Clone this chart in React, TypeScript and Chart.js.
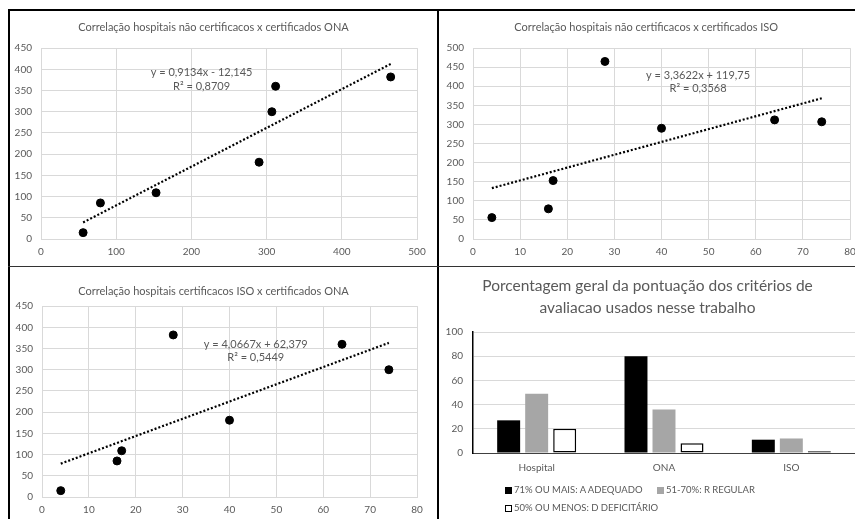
import React, { useEffect, useRef } from "react";
import { Chart, registerables } from "chart.js";

Chart.register(...registerables);

// ---- data ----
const isoCert = [4, 16, 17, 28, 40, 64, 74];
const naoCert = [56, 79, 153, 465, 290, 312, 307];
const onaCert = [15, 85, 109, 382, 181, 360, 300];

const eqNaoOna = ["y = 0,9134x - 12,145", "R² = 0,8709"];
const coefNaoOna = [0.9134, -12.145];
const eqIsoNao = ["y = 3,3622x + 119,75", "R² = 0,3568"];
const coefIsoNao = [3.3622, 119.75];
const eqIsoOna = ["y = 4,0667x + 62,379", "R² = 0,5449"];
const coefIsoOna = [4.0667, 62.379];

const barCategories = ["Hospital", "ONA", "ISO"];
const adequado = [27, 80, 11];
const regular = [49, 36, 12];
const deficitario = [20, 8, 1.5];
const barSeriesLabels = ["71% OU MAIS: A ADEQUADO", "51-70%: R REGULAR", "50% OU MENOS: D DEFICITÁRIO"];
const barColors = ["#000000", "#a6a6a6", "#ffffff"];

const FONT = "Lato, 'Open Sans', sans-serif";
const TXT = "#595959";
const GRID = "#d9d9d9";

const eqPlugin = {
  id: "eqText",
  afterDatasetsDraw(chart: any, _args: any, opts: any) {
    if (!opts || !opts.lines) return;
    const { ctx, chartArea: a } = chart;
    ctx.save();
    ctx.font = `${opts.size}px ${FONT}`;
    ctx.fillStyle = TXT;
    ctx.textAlign = "center";
    ctx.textBaseline = "middle";
    opts.lines.forEach((l: string, i: number) => {
      ctx.fillText(l, a.left + a.width * opts.fx, a.top + a.height * opts.fy + i * opts.lh);
    });
    ctx.restore();
  },
};

type ScatterProps = {
  left: number; top: number; width: number; height: number;
  xs: number[]; ys: number[]; title: string; eq: string[]; coef: number[];
  xMax: number; xStep: number; yMax: number; yStep: number;
  yAxisW: number; xAxisH: number; padRight: number; tTop: number; tBottom: number;
  fx: number; fy: number; lh: number;
};

function ScatterPanel(p: ScatterProps) {
  const ref = useRef<HTMLCanvasElement>(null);
  useEffect(() => {
    const pts = p.xs.map((x, i) => ({ x, y: p.ys[i] }));
    const minX = Math.min(...p.xs);
    const maxX = Math.max(...p.xs);
    const trend = [minX, maxX].map((x) => ({ x, y: p.coef[0] * x + p.coef[1] }));
    const chart = new Chart(ref.current as HTMLCanvasElement, {
      type: "scatter",
      data: {
        datasets: [
          {
            type: "line",
            data: trend,
            borderColor: "#000",
            borderWidth: 2.2,
            borderDash: [2, 2],
            pointRadius: 0,
            fill: false,
            order: 2,
          } as any,
          {
            type: "scatter",
            data: pts,
            backgroundColor: "#000",
            borderColor: "#000",
            borderWidth: 1,
            pointRadius: 4,
            pointHoverRadius: 4,
            order: 1,
          } as any,
        ],
      },
      options: {
        animation: false,
        responsive: false,
        maintainAspectRatio: false,
        events: [],
        layout: { padding: { left: 0, right: p.padRight, top: 0, bottom: 0 } },
        plugins: {
          legend: { display: false },
          tooltip: { enabled: false },
          title: {
            display: true,
            text: p.title,
            color: TXT,
            font: { family: FONT, size: 11, weight: "normal", lineHeight: 1.1 },
            padding: { top: p.tTop, bottom: p.tBottom },
          },
          eqText: { lines: p.eq, fx: p.fx, fy: p.fy, lh: p.lh, size: 11 },
        } as any,
        scales: {
          x: {
            type: "linear",
            min: 0,
            max: p.xMax,
            ticks: { stepSize: p.xStep, color: TXT, font: { family: FONT, size: 10 }, padding: 7, maxRotation: 0 },
            grid: { color: GRID, drawTicks: false },
            border: { color: GRID },
            afterFit: (s: any) => {
              s.height = p.xAxisH;
              s.paddingLeft = 0;
              s.paddingRight = 0;
            },
          },
          y: {
            type: "linear",
            min: 0,
            max: p.yMax,
            ticks: { stepSize: p.yStep, color: TXT, font: { family: FONT, size: 10 }, padding: 9 },
            grid: { color: GRID, drawTicks: false },
            border: { color: GRID },
            afterFit: (s: any) => {
              s.width = p.yAxisW;
              s.paddingTop = 0;
              s.paddingBottom = 0;
            },
          },
        },
      },
      plugins: [eqPlugin],
    });
    return () => chart.destroy();
  }, []);
  return (
    <canvas
      ref={ref}
      width={p.width}
      height={p.height}
      style={{ position: "absolute", left: p.left, top: p.top, width: p.width, height: p.height }}
    />
  );
}

function BarPanel() {
  const ref = useRef<HTMLCanvasElement>(null);
  useEffect(() => {
    const series = [adequado, regular, deficitario];
    const chart = new Chart(ref.current as HTMLCanvasElement, {
      type: "bar",
      data: {
        labels: barCategories,
        datasets: series.map((d, i) => ({
          label: barSeriesLabels[i],
          data: d,
          backgroundColor: barColors[i],
          borderColor: "#000",
          borderWidth: i === 2 ? 1.5 : 0,
          borderSkipped: false,
        })) as any,
      },
      options: {
        animation: false,
        responsive: false,
        maintainAspectRatio: false,
        events: [],
        datasets: { bar: { categoryPercentage: 0.66, barPercentage: 0.82 } },
        layout: { padding: 0 },
        plugins: {
          legend: { display: false },
          tooltip: { enabled: false },
          title: {
            display: true,
            text: ["Porcentagem geral da pontuação dos critérios de", "avaliacao usados nesse trabalho"],
            color: TXT,
            font: { family: FONT, size: 15.5, weight: "normal", lineHeight: 1.42 },
            padding: { top: 7, bottom: 13 },
          },
        },
        scales: {
          x: {
            ticks: { color: TXT, font: { family: FONT, size: 10 }, padding: 9 },
            grid: { display: false, drawTicks: false },
            border: { color: "#404040", width: 1 },
            afterFit: (s: any) => {
              s.height = 66;
              s.paddingLeft = 0;
              s.paddingRight = 0;
            },
          },
          y: {
            min: 0,
            max: 100,
            ticks: { stepSize: 20, color: TXT, font: { family: FONT, size: 10 }, padding: 10 },
            grid: {
              drawTicks: false,
              color: (c: any) => (c.tick && c.tick.value === 0 ? "#404040" : GRID),
            },
            border: { color: "#000", width: 1.5 },
            afterFit: (s: any) => {
              s.width = 33;
              s.paddingTop = 0;
              s.paddingBottom = 0;
            },
          },
        },
      },
    });
    return () => chart.destroy();
  }, []);
  const item = (i: number) => (
    <span style={{ display: "inline-flex", alignItems: "center" }}>
      <span
        style={{
          display: "inline-block",
          width: 7,
          height: 7,
          background: barColors[i],
          border: i === 2 ? "1.5px solid #000" : "none",
          boxSizing: "border-box",
          marginRight: 2,
        }}
      />
      {barSeriesLabels[i]}
    </span>
  );
  const legendText: React.CSSProperties = {
    position: "absolute",
    fontFamily: FONT,
    fontSize: 9.5,
    letterSpacing: 0,
    color: TXT,
    whiteSpace: "nowrap",
    lineHeight: "12px",
  };
  return (
    <>
      <canvas
        ref={ref}
        width={415}
        height={251}
        style={{ position: "absolute", left: 440, top: 268, width: 415, height: 251 }}
      />
      <div style={{ ...legendText, left: 505, top: 484 }}>{item(0)}</div>
      <div style={{ ...legendText, left: 657, top: 484 }}>{item(1)}</div>
      <div style={{ ...legendText, left: 505, top: 502 }}>{item(2)}</div>
    </>
  );
}

export default function App() {
  const line = (s: React.CSSProperties) => <div style={{ position: "absolute", background: "#000", ...s }} />;
  return (
    <div
      style={{
        position: "fixed",
        left: 0,
        top: 0,
        width: 855,
        height: 519,
        overflow: "hidden",
        background: "#fff",
      }}
    >
      <ScatterPanel
        left={10} top={11} width={427} height={254}
        xs={naoCert} ys={onaCert}
        title="Correlação hospitais não certificacos x certificados ONA"
        eq={eqNaoOna} coef={coefNaoOna}
        xMax={500} xStep={100} yMax={450} yStep={50}
        yAxisW={31} xAxisH={26} padRight={20} tTop={10} tBottom={15}
        fx={0.427} fy={0.127} lh={14}
      />
      <ScatterPanel
        left={440} top={11} width={415} height={254}
        xs={isoCert} ys={naoCert}
        title="Correlação hospitais não certificacos x certificados ISO"
        eq={eqIsoNao} coef={coefIsoNao}
        xMax={80} xStep={10} yMax={500} yStep={50}
        yAxisW={33} xAxisH={26} padRight={2.5} tTop={10} tBottom={15}
        fx={0.597} fy={0.145} lh={13}
      />
      <ScatterPanel
        left={10} top={268} width={427} height={251}
        xs={isoCert} ys={onaCert}
        title="Correlação hospitais certificacos ISO x certificados ONA"
        eq={eqIsoOna} coef={coefIsoOna}
        xMax={80} xStep={10} yMax={450} yStep={50}
        yAxisW={32} xAxisH={22} padRight={20} tTop={17} tBottom={9}
        fx={0.57} fy={0.2} lh={13}
      />
      <BarPanel />
      {line({ left: 8, top: 9, width: 847, height: 2 })}
      {line({ left: 8, top: 9, width: 2, height: 510 })}
      {line({ left: 437, top: 9, width: 2, height: 510 })}
      {line({ left: 8, top: 266, width: 847, height: 1, background: "#333" })}
    </div>
  );
}
